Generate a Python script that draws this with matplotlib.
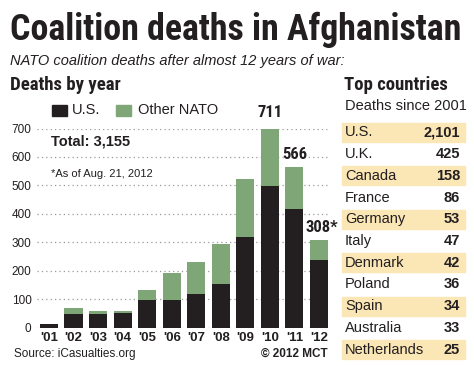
import numpy as np
import matplotlib.pyplot as plt
from matplotlib.patches import Rectangle

# ---------------------------------------------------
# DATA
# ---------------------------------------------------
years = ["'01", "'02", "'03", "'04", "'05", "'06", "'07", "'08", "'09", "'10", "'11", "'12"]
us_deaths = [12, 49, 48, 52, 99, 98, 117, 155, 317, 499, 418, 237]
total_deaths = [12, 70, 57, 60, 131, 191, 232, 295, 521, 711, 566, 308]
labelled = {9: "711", 10: "566", 11: "308*"}

countries = ["U.S.", "U.K.", "Canada", "France", "Germany", "Italy",
             "Denmark", "Poland", "Spain", "Australia", "Netherlands"]
country_deaths = ["2,101", "425", "158", "86", "53", "47", "42", "36", "34", "33", "25"]

other_deaths = [t - u for t, u in zip(total_deaths, us_deaths)]

W, H = 474, 366
BLACK = "#231f20"
GREEN = "#7fa676"
TAN = "#fbe6b6"
NARROW = "Roboto Condensed"
SANS = "Liberation Sans"


def fx(x):
    return x / W


def fy(y):
    return 1 - y / H


fig = plt.figure(figsize=(W / 100, H / 100), dpi=100)
fig.patch.set_facecolor("white")

# titles
title = fig.text(fx(10), fy(30), "Coalition deaths in Afghanistan", family=NARROW,
                 weight="heavy", fontsize=28, va="center", ha="left", color=BLACK)
# fit the headline to the reference width (10..462 px)
r = fig.canvas.get_renderer()
w = title.get_window_extent(r).width
title.set_fontsize(28 * 452 / w)

fig.text(fx(10), fy(61), "NATO coalition deaths after almost 12 years of war:",
         family=SANS, style="italic", fontsize=10.5, va="center", color=BLACK)
fig.text(fx(10), fy(85), "Deaths by year", family=NARROW, weight="bold",
         fontsize=13.5, va="center", color=BLACK)
fig.text(fx(344), fy(85), "Top countries", family=NARROW, weight="bold",
         fontsize=13.5, va="center", color=BLACK)
fig.text(fx(345), fy(106), "Deaths since 2001", family=SANS,
         fontsize=10.5, va="center", color=BLACK)

# ---------------------------------------------------
# BAR CHART
# ---------------------------------------------------
ax_l, ax_r = 37, 330
ax_b, ax_t = 327.7, 128.5
ax = fig.add_axes([fx(ax_l), fy(ax_b), (ax_r - ax_l) / W, (ax_b - ax_t) / H])
x = np.arange(len(years))
ax.bar(x, us_deaths, width=0.74, color=BLACK, zorder=3)
ax.bar(x, other_deaths, bottom=us_deaths, width=0.74, color=GREEN, zorder=3)
ax.set_xlim(-0.49, 11.45)
ax.set_ylim(0, 700)
ax.set_yticks(range(0, 701, 100))
ax.set_yticklabels([str(v) for v in range(0, 701, 100)], family=SANS,
                   fontsize=8.5, color=BLACK)
ax.set_xticks(x)
ax.set_xticklabels(years, family=SANS, weight="bold", fontsize=9.5, color=BLACK)
ax.tick_params(length=0, pad=3)
ax.tick_params(axis="y", pad=4)
for v in range(0, 701, 100):
    ax.axhline(v, color="#9a9a9a", lw=0.9, ls=(0, (1, 2.5)), zorder=1)
for s in ax.spines.values():
    s.set_visible(False)
ax.set_facecolor("none")

for i, lab in labelled.items():
    ax.text(i + (0.11 if lab.endswith("*") else 0), total_deaths[i] + 18, lab,
            family=NARROW, weight="bold", fontsize=12, ha="center",
            va="bottom", color=BLACK, clip_on=False)

# legend
fig.patches.append(Rectangle((fx(52), fy(116)), 15 / W, 11 / H,
                             transform=fig.transFigure, color=BLACK))
fig.text(fx(72), fy(110), "U.S.", family=SANS, fontsize=10.5, va="center", color=BLACK)
fig.patches.append(Rectangle((fx(116), fy(116)), 15 / W, 11 / H,
                             transform=fig.transFigure, color=GREEN))
fig.text(fx(138), fy(110), "Other NATO", family=SANS, fontsize=10.5,
         va="center", color=BLACK)

fig.text(fx(51), fy(142), "Total: 3,155", family=SANS, weight="bold",
         fontsize=10.5, va="center", color=BLACK)
fig.text(fx(51), fy(174), "*As of Aug. 21, 2012", family=SANS,
         fontsize=8, va="center", color=BLACK)

fig.text(fx(14), fy(354), "Source: iCasualties.org", family=SANS,
         fontsize=8.5, va="center", color=BLACK)
fig.text(fx(328), fy(354), "\u00a9 2012 MCT", family=SANS, weight="bold",
         fontsize=8.5, va="center", ha="right", color=BLACK)

# ---------------------------------------------------
# TABLE
# ---------------------------------------------------
row0 = 132.5
pitch = 21.7
for i, (c, d) in enumerate(zip(countries, country_deaths)):
    yc = row0 + i * pitch
    if i % 2 == 0:
        fig.patches.append(Rectangle((fx(342), fy(yc + 9.5)), 123 / W, 19 / H,
                                     transform=fig.transFigure, color=TAN,
                                     zorder=0))
    fig.text(fx(345), fy(yc), c, family=SANS, fontsize=10.5,
             va="center", color=BLACK)
    fig.text(fx(460), fy(yc), d, family=SANS, weight="bold", fontsize=10.5,
             va="center", ha="right", color=BLACK)

fig.savefig("out.png", dpi=100)
